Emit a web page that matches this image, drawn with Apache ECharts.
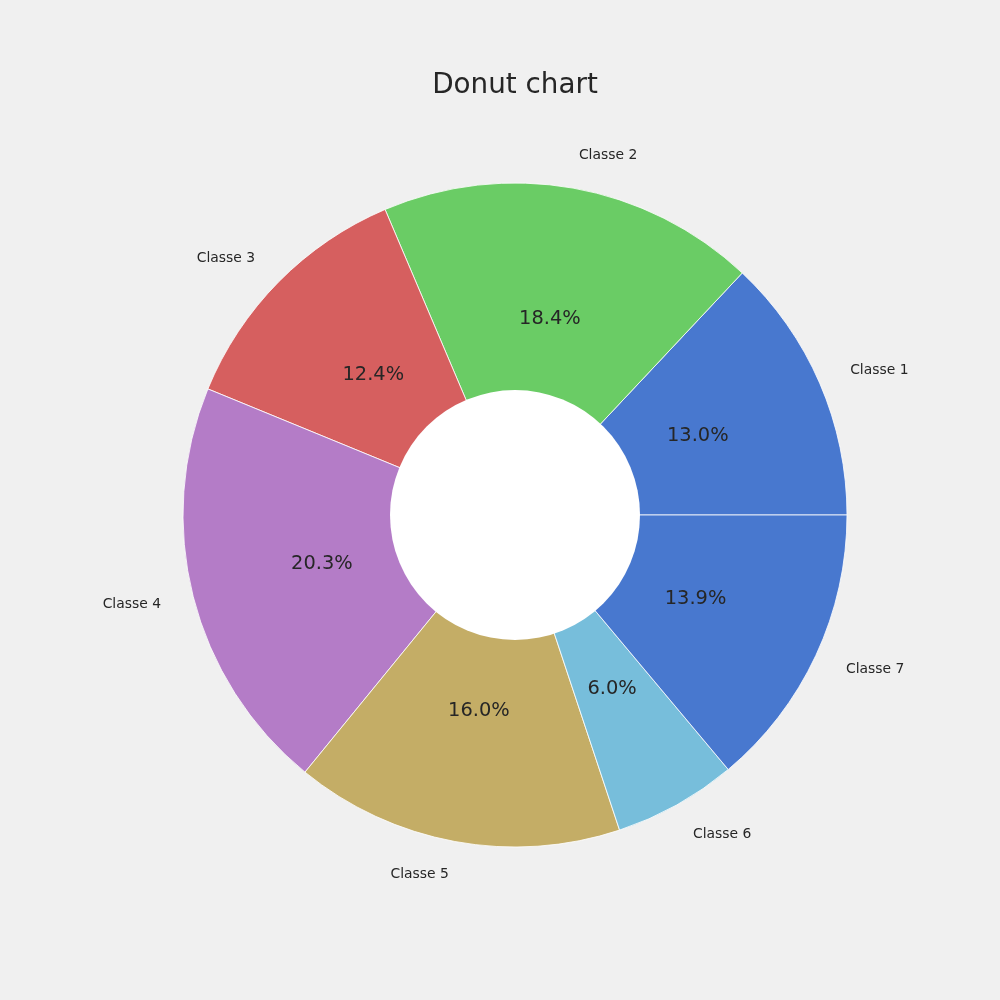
<!DOCTYPE html>
<html><head><meta charset="utf-8">
<script src="https://cdn.jsdelivr.net/npm/echarts@6/dist/echarts.min.js"></script>
<style>html,body{margin:0;padding:0;background:#f0f0f0;}#c{width:1000px;height:1000px;}</style>
</head><body><div id="c"></div>
<script>
const categories = ['Classe 1','Classe 2','Classe 3','Classe 4','Classe 5','Classe 6','Classe 7'];
const values = [13.0, 18.4, 12.4, 20.3, 16.0, 6.0, 13.9];
const colors = ['#4878cf','#6acc65','#d65f5f','#b47cc7','#c4ad66','#77bedb','#4878cf'];

const data = categories.map((c,i)=>({name:c, value:values[i], itemStyle:{color:colors[i]}}));
const FONT = 'DejaVu Sans';
const cx = 515, cy = 515, R = 332, R0 = 125;
const pctR = R*0.6 - 3;

const chart = echarts.init(document.getElementById('c'), null, {renderer:'canvas'});
chart.setOption({
  backgroundColor:'#f0f0f0',
  animation:false,
  title:{text:'Donut chart', left:cx-5, textAlign:'center', top:67, textStyle:{fontFamily:FONT, fontSize:27.8, fontWeight:'normal', color:'#262626'}},
  series:[
    {
      type:'pie', center:[cx,cy], radius:[0,R], startAngle:0, clockwise:false,
      avoidLabelOverlap:false, silent:true,
      itemStyle:{borderColor:'rgba(255,255,255,0.8)', borderWidth:1},
      label:{show:true, position:'outside', formatter:'{b}', fontFamily:FONT, fontSize:13.9, color:'#262626', distanceToLabelLine:0},
      labelLine:{show:false, length:R*0.1, length2:0},
      data:data
    },
    {
      type:'pie', center:[cx,cy], radius:[pctR-60, pctR+60], startAngle:0, clockwise:false,
      avoidLabelOverlap:false, silent:true, z:5,
      itemStyle:{color:'rgba(0,0,0,0)', borderWidth:0},
      label:{show:true, position:'inside', formatter:p=>p.value.toFixed(1)+'%', fontFamily:FONT, fontSize:19.4, color:'#262626'},
      labelLine:{show:false},
      data:categories.map((c,i)=>({name:c, value:values[i]}))
    },
    {
      type:'pie', center:[cx,cy], radius:[0,R0], silent:true, z:3,
      label:{show:false}, labelLine:{show:false},
      itemStyle:{color:'#ffffff', borderWidth:0},
      data:[{name:'hole', value:1}]
    }
  ]
});
</script></body></html>
